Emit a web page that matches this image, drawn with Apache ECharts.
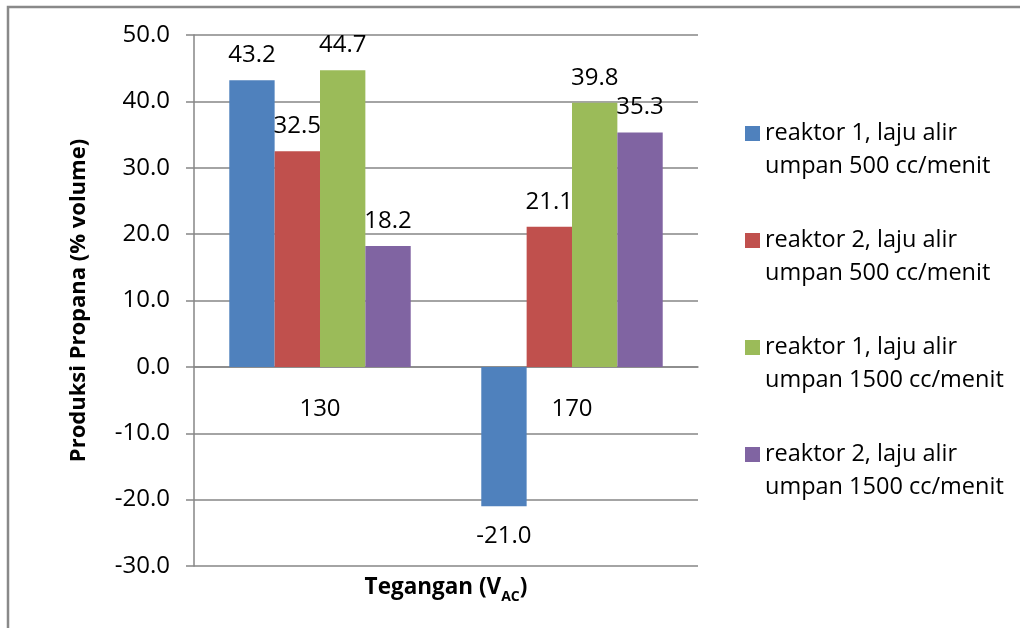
<!DOCTYPE html>
<html>
<head>
<meta charset="utf-8">
<script src="https://cdn.jsdelivr.net/npm/echarts@6/dist/echarts.min.js"></script>
<style>
  html, body { margin: 0; padding: 0; background: #ffffff; }
  #chart { width: 1020px; height: 628px; }
</style>
</head>
<body>
<div id="chart"></div>
<script>
// Tegangan (V_AC) categories
const categories = ['130', '170'];

// Produksi propana (% volume) per reaktor / laju alir umpan
const seriesNames = [
  'reaktor 1, laju alir\numpan 500 cc/menit',
  'reaktor 2, laju alir\numpan 500 cc/menit',
  'reaktor 1, laju alir\numpan 1500 cc/menit',
  'reaktor 2, laju alir\numpan 1500 cc/menit'
];
const reaktor1Umpan500 = [43.2, -21.0];
const reaktor2Umpan500 = [32.5, 21.1];
const reaktor1Umpan1500 = [44.7, 39.8];
const reaktor2Umpan1500 = [18.2, 35.3];

const seriesValues = [reaktor1Umpan500, reaktor2Umpan500, reaktor1Umpan1500, reaktor2Umpan1500];
const seriesColors = ['#4F81BD', '#C0504D', '#9BBB59', '#8064A2'];

// Y axis range
const yMin = -30, yMax = 50, yStep = 10;

const FONT = '"Open Sans", "Liberation Sans", sans-serif';

// plot area
const GRID = { left: 194, right: 322, top: 35, bottom: 62 };

const chart = echarts.init(document.getElementById('chart'), null, { renderer: 'canvas' });

const series = seriesValues.map((vals, i) => ({
  name: seriesNames[i],
  type: 'bar',
  barGap: '0%',
  barCategoryGap: '28%',
  itemStyle: { color: seriesColors[i] },
  label: {
    show: true,
    position: 'top',
    distance: 13,
    color: '#000000',
    fontFamily: FONT,
    fontSize: 24,
    formatter: p => Number(p.value).toFixed(1)
  },
  // negative values get their label underneath the bar
  data: vals.map(v => v < 0
    ? { value: v, label: { position: 'bottom', distance: 18 } }
    : { value: v })
}));

// the category axis sits on the zero line: shift it up from the plot bottom
const plotHeight = 628 - GRID.top - GRID.bottom;
const zeroOffset = -plotHeight * (0 - yMin) / (yMax - yMin);

chart.setOption({
  animation: false,
  backgroundColor: '#ffffff',
  textStyle: { fontFamily: FONT },
  grid: Object.assign({ containLabel: false }, GRID),
  legend: {
    orient: 'vertical',
    left: 745,
    top: 84,
    padding: 0,
    itemGap: 8,
    itemWidth: 15,
    itemHeight: 15,
    icon: 'rect',
    selectedMode: false,
    // leading blank line keeps the swatch level with the first text line
    formatter: name => '\n' + name,
    textStyle: {
      fontFamily: FONT,
      fontSize: 23.5,
      lineHeight: 33,
      color: '#000000'
    },
    data: seriesNames
  },
  xAxis: {
    type: 'category',
    data: categories,
    offset: zeroOffset,
    axisLine: { show: true, onZero: false, lineStyle: { color: '#868686', width: 1.5 } },
    axisTick: { show: false },
    axisLabel: {
      margin: 30,
      color: '#000000',
      fontFamily: FONT,
      fontSize: 24
    },
    splitLine: { show: false }
  },
  yAxis: {
    type: 'value',
    min: yMin,
    max: yMax,
    interval: yStep,
    name: 'Produksi Propana (% volume)',
    nameLocation: 'middle',
    nameGap: 104,
    nameTextStyle: {
      fontFamily: FONT,
      fontSize: 22,
      fontWeight: 'bold',
      color: '#000000'
    },
    axisLine: { show: true, lineStyle: { color: '#868686', width: 1.5 } },
    axisTick: { show: true, length: 8, lineStyle: { color: '#868686', width: 1.5 } },
    axisLabel: {
      margin: 24,
      color: '#000000',
      fontFamily: FONT,
      fontSize: 24,
      formatter: v => v.toFixed(1)
    },
    splitLine: { show: true, lineStyle: { color: '#868686', width: 1.5 } }
  },
  graphic: [
    {
      type: 'rect',
      silent: true,
      shape: { x: 8, y: 7, width: 1040, height: 700 },
      style: { fill: 'none', stroke: '#898989', lineWidth: 2.5 }
    },
    {
      type: 'text',
      silent: true,
      x: 446,
      y: 588,
      style: {
        text: '{a|Tegangan (V}{b|AC}{a|)}',
        align: 'center',
        verticalAlign: 'middle',
        rich: {
          a: { fontFamily: FONT, fontSize: 22.5, fontWeight: 'bold', fill: '#000000', lineHeight: 32 },
          b: { fontFamily: FONT, fontSize: 14, fontWeight: 'bold', fill: '#000000', lineHeight: 15, verticalAlign: 'bottom' }
        }
      }
    }
  ],
  series: series
});
</script>
</body>
</html>
